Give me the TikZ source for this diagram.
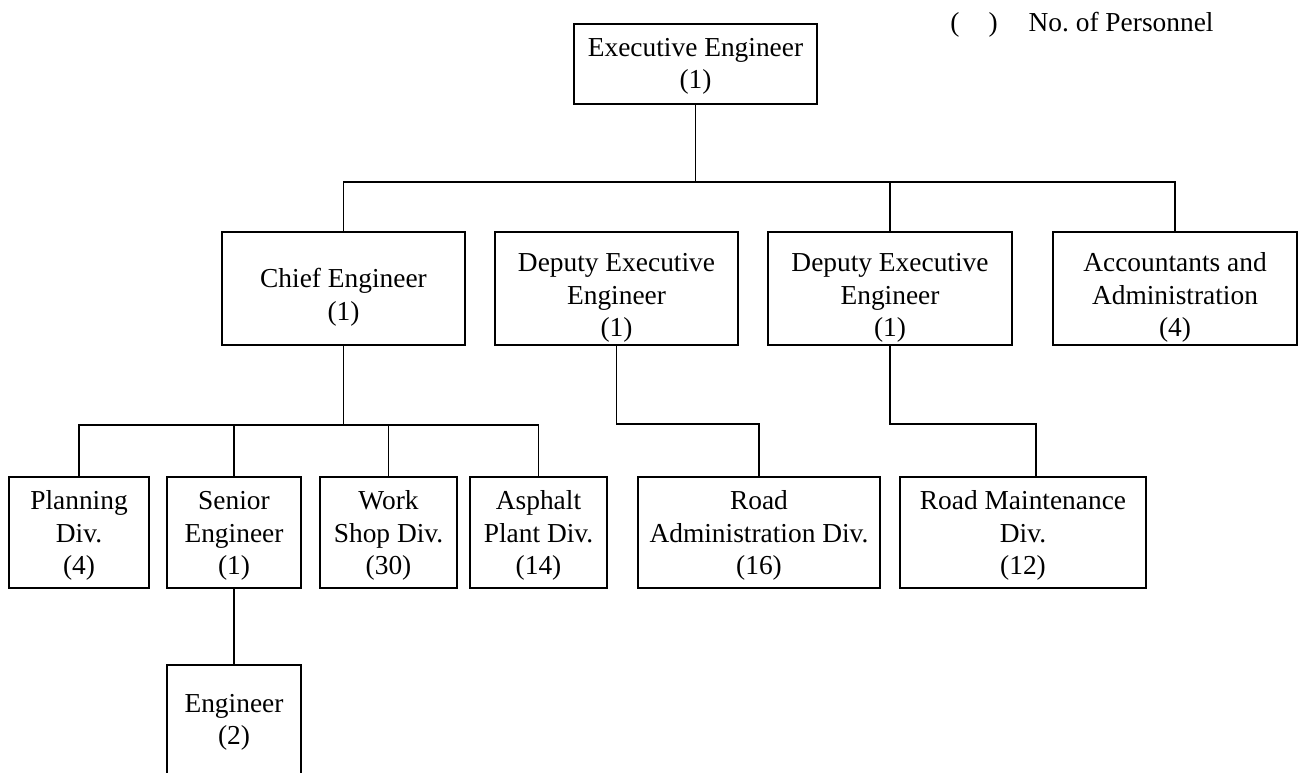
\documentclass[tikz,border=0pt]{standalone}
\usepackage{fontspec}
\setmainfont{Liberation Serif}
\begin{document}
\begin{tikzpicture}[x=0.5pt,y=-0.5pt,
  bx/.style 2 args={draw, line width=0.9pt, inner sep=0pt, outer sep=0pt,
    minimum width={#1*0.5pt}, minimum height={#2*0.5pt}},
  txt/.style={inner sep=0pt, align=center, font=\fontsize{13.7pt}{16.3pt}\selectfont},
  link/.style={line width=0.9pt}]
\clip (0,0) rectangle (1300,772);
% coordinates of the horizontal bars
\coordinate (barA) at (0,182);
\coordinate (barB) at (0,425);
\coordinate (barC) at (0,424);
% legend
\node[txt, anchor=base west] (legend) at (950,31) {(\hspace{14.5pt})\hspace{15.5pt}No.\ of Personnel};
% level 0
\node[bx={243}{80}] (exec) at (695.5,64) {};
\node[txt] (exec-t) at (695.5,66) {Executive Engineer\strut\\(1)\strut};
% level 1
\node[bx={243}{113}] (chief) at (343.5,288.5) {};
\node[txt] (chief-t) at (343.5,297.5) {Chief Engineer\strut\\(1)\strut};
\node[bx={243}{113}] (dep1) at (616.5,288.5) {};
\node[txt] (dep1-t) at (616.5,297.5) {Deputy Executive\strut\\Engineer\strut\\(1)\strut};
\node[bx={244}{113}] (dep2) at (890,288.5) {};
\node[txt] (dep2-t) at (890,297.5) {Deputy Executive\strut\\Engineer\strut\\(1)\strut};
\node[bx={244}{113}] (acc) at (1175,288.5) {};
\node[txt] (acc-t) at (1175,297.5) {Accountants and\strut\\Administration\strut\\(4)\strut};
% level 2
\node[bx={140}{111}] (plan) at (79,532.5) {};
\node[txt] (plan-t) at (79,535.5) {Planning\strut\\Div.\strut\\(4)\strut};
\node[bx={134}{111}] (sen) at (234,532.5) {};
\node[txt] (sen-t) at (234,535.5) {Senior\strut\\Engineer\strut\\(1)\strut};
\node[bx={137}{111}] (work) at (388.5,532.5) {};
\node[txt] (work-t) at (388.5,535.5) {Work\strut\\Shop Div.\strut\\(30)\strut};
\node[bx={137}{111}] (asph) at (538.5,532.5) {};
\node[txt] (asph-t) at (538.5,535.5) {Asphalt\strut\\Plant Div.\strut\\(14)\strut};
\node[bx={242}{111}] (radm) at (759,532.5) {};
\node[txt] (radm-t) at (759,535.5) {Road\strut\\Administration Div.\strut\\(16)\strut};
\node[bx={246}{111}] (rmnt) at (1023,532.5) {};
\node[txt] (rmnt-t) at (1023,535.5) {Road Maintenance\strut\\Div.\strut\\(12)\strut};
% level 3
\node[bx={134}{140}] (eng) at (234,735) {};
\node[txt] (eng-t) at (234,722) {Engineer\strut\\(2)\strut};
% connectors
\draw[link] (exec.south) -- (exec.south |- barA);
\draw[link] (chief.north) -- (chief.north |- barA) -- (acc.north |- barA) -- (acc.north);
\draw[link] (dep2.north) -- (dep2.north |- barA);
\draw[link] (chief.south) -- (chief.south |- barB);
\draw[link] (plan.north) -- (plan.north |- barB) -- (asph.north |- barB) -- (asph.north);
\draw[link] (sen.north) -- (sen.north |- barB);
\draw[link] (work.north) -- (work.north |- barB);
\draw[link] (dep1.south) -- (dep1.south |- barC) -- (radm.north |- barC) -- (radm.north);
\draw[link] (dep2.south) -- (dep2.south |- barC) -- ([xshift=6.5pt]rmnt.north |- barC) -- ([xshift=6.5pt]rmnt.north);
\draw[link] (sen.south) -- (eng.north);
\end{tikzpicture}
\end{document}
